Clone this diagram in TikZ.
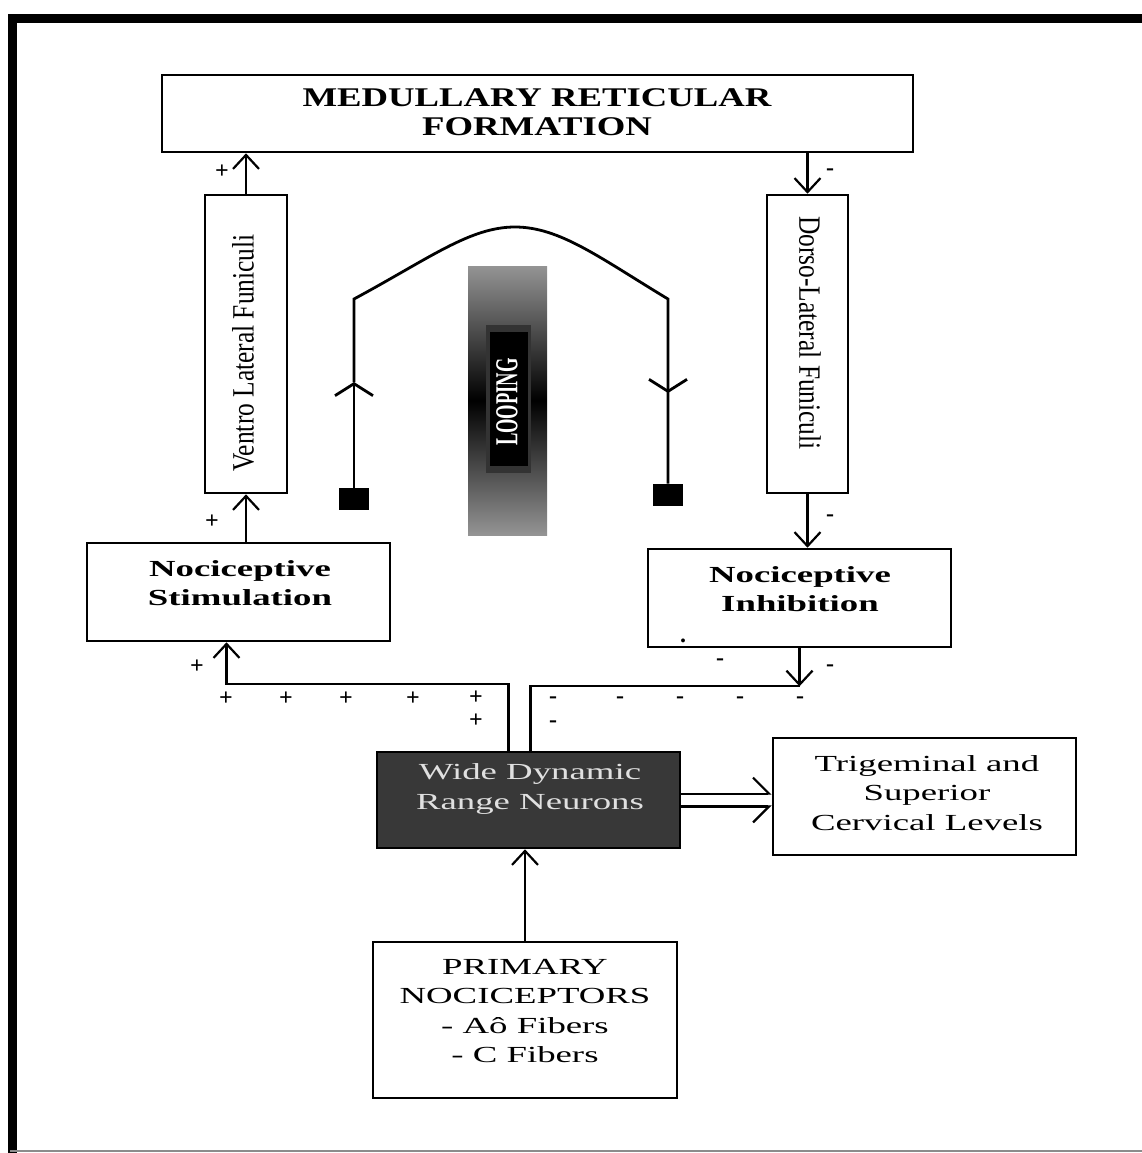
\documentclass[tikz,border=0pt]{standalone}
\usepackage{fontspec}
\setmainfont{Liberation Serif}
\newfontfamily\wideserif[FakeStretch=1.6]{Liberation Serif}
\newfontfamily\titleserif[FakeStretch=1.36]{Liberation Serif}
\newfontfamily\narrowserif[FakeStretch=0.82]{Liberation Serif}
\newfontfamily\loopserif[FakeStretch=0.58]{Liberation Serif}
\usetikzlibrary{arrows.meta}

\begin{document}
\begin{tikzpicture}[x=0.5pt,y=-0.5pt]
\tikzstyle{box}=[draw,line width=1.3pt,inner sep=0pt]
\tikzstyle{txt}=[align=center,inner sep=0pt,font=\wideserif\fontsize{11.5}{14.7}\selectfont]
\tikzstyle{arr}=[line width=1.1pt,-{Straight Barb[length=7pt,width=13pt]}]
\tikzstyle{arrup}=[line width=1.1pt,-{Straight Barb[left,length=8pt,width=16pt]}]
\tikzstyle{arrdn}=[line width=1.1pt,-{Straight Barb[right,length=8pt,width=16pt]}]
\tikzstyle{loopln}=[line width=1.4pt]
\tikzstyle{larr}=[line width=1.4pt,-{Straight Barb[length=6pt,width=19pt]}]
\tikzstyle{sq}=[fill=black,minimum width=15pt,minimum height=11pt,inner sep=0pt]
\tikzstyle{sgn}=[inner sep=0pt,font=\bfseries\fontsize{12}{12}\selectfont]
\useasboundingbox (0,0) rectangle (1142,1153);
    % frame
    \draw[line width=4.5pt] (12.5,1153) -- (12.5,18) -- (1142,18);
    \draw[line width=1pt,black!45] (10,1151) -- (1142,1151);
    % boxes
    \node[box,minimum width=375.5pt,minimum height=38.5pt] (mrf) at (537.5,113.5) {};
    \node[box,minimum width=41pt,minimum height=149pt] (vlf) at (246,344) {};
    \node[box,minimum width=40.5pt,minimum height=149pt] (dlf) at (807.5,344) {};
    \node[box,minimum width=151.5pt,minimum height=49pt] (stim) at (238.5,592) {};
    \node[box,minimum width=151.5pt,minimum height=49pt] (inhib) at (799.5,598) {};
    \node[box,fill=black!78,minimum width=151.5pt,minimum height=48pt] (wdr) at (528.5,800) {};
    \node[box,minimum width=151.5pt,minimum height=58.5pt] (trig) at (924.5,796.5) {};
    \node[box,minimum width=152pt,minimum height=78pt] (prim) at (525,1020) {};
    % texts
    \node[txt,font=\titleserif\bfseries\fontsize{13.5}{14.7}\selectfont] (mrftxt) at (537,112) {MEDULLARY RETICULAR\\FORMATION};
    \node[inner sep=0pt,rotate=90,font=\narrowserif\fontsize{15.5}{16}\selectfont] (vlftxt) at (243,353) {Ventro Lateral Funiculi};
    \node[inner sep=0pt,rotate=-90,font=\narrowserif\fontsize{15.5}{16}\selectfont] (dlftxt) at (810,333) {Dorso-Lateral Funiculi};
    \node[txt,font=\wideserif\bfseries\fontsize{11.5}{14.7}\selectfont] (stimtxt) at (240,583) {Nociceptive\\Stimulation};
    \node[txt,font=\wideserif\bfseries\fontsize{11.5}{14.7}\selectfont] (inhibtxt) at (800,589) {Nociceptive\\Inhibition};
    \node[txt,text=white!88!black] (wdrtxt) at (530,789) {Wide Dynamic\\Range Neurons};
    \node[txt] (trigtxt) at (927,793) {Trigeminal and\\Superior\\Cervical Levels};
    \node[txt] (primtxt) at (525,1011) {PRIMARY\\NOCICEPTORS\\- Aô Fibers\\- C Fibers};
    % looping
    \shade[top color=black!42,bottom color=black!42,middle color=black] (468,266) rectangle (547,535);
    \fill[black!80] (486,325) rectangle (531,473);
    \fill[black] (490,332) rectangle (528,466);
    \node[inner sep=0pt,rotate=90,text=white,font=\loopserif\bfseries\fontsize{16}{16}\selectfont] (loop) at (507,402) {LOOPING};
    \node[sq] (sql) at (354,499) {};
    \node[sq] (sqr) at (668,495) {};
    \coordinate (la) at (354,382);
    \coordinate (lt) at (354,299);
    \coordinate (pk) at (515,227);
    \coordinate (rt) at (668,299);
    \coordinate (ra) at (668,393);
    \draw[larr] (sql.north) -- (la);
    \draw[loopln] (la) -- (lt) .. controls (430,258) and (470,227) .. (pk) .. controls (560,227) and (600,258) .. (rt) -- (sqr.north);
    \draw[larr] (rt) -- (ra);
    % connectors
    \draw[arr] (vlf.north) -- (vlf.north |- mrf.south);
    \draw[arr] (mrf.south -| dlf.north) -- (dlf.north);
    \draw[arr] (vlf.south |- stim.north) -- (vlf.south);
    \draw[arr] (dlf.south) -- (dlf.south |- inhib.north);
    \coordinate (wl) at ([xshift=-10pt]wdr.north);
    \coordinate (wr) at ([xshift=1pt]wdr.north);
    \coordinate (sb) at ([xshift=-6pt]stim.south);
    \coordinate (ij) at ([yshift=-19pt]inhib.south);
    \draw[arr] (wl) -- ++(0,-67) -| (sb);
    \draw[arr] (inhib.south) -- (ij);
    \draw[line width=1.1pt] (wr) |- (ij);
    \draw[arr] (prim.north) -- (prim.north |- wdr.south);
    \draw[arrup] ([yshift=3.2pt]wdr.east) -- ([yshift=3.2pt]wdr.east -| trig.west);
    \draw[arrdn] ([yshift=-3.2pt]wdr.east) -- ([yshift=-3.2pt]wdr.east -| trig.west);
    % signs
    \node[sgn] (p1) at (222,172) {+};
    \node[sgn] (p2) at (212,522) {+};
    \node[sgn] (p3) at (197,667) {+};
    \node[sgn] (p4) at (226,699) {+};
    \node[sgn] (p5) at (286,699) {+};
    \node[sgn] (p6) at (346,699) {+};
    \node[sgn] (p7) at (413,699) {+};
    \node[sgn] (p8) at (476,698) {+};
    \node[sgn] (p9) at (476,721) {+};
    \node[sgn] (m1) at (830,172) {-};
    \node[sgn] (m2) at (830,518) {-};
    \node[sgn] (m3) at (720,662) {-};
    \node[sgn] (m4) at (830,668) {-};
    \node[sgn] (m5) at (553,700) {-};
    \node[sgn] (m6) at (620,700) {-};
    \node[sgn] (m7) at (680,700) {-};
    \node[sgn] (m8) at (740,700) {-};
    \node[sgn] (m9) at (800,700) {-};
    \node[sgn] (m10) at (553,724) {-};
    \node[sgn] (dot) at (683,641) {.};
\end{tikzpicture}
\end{document}
